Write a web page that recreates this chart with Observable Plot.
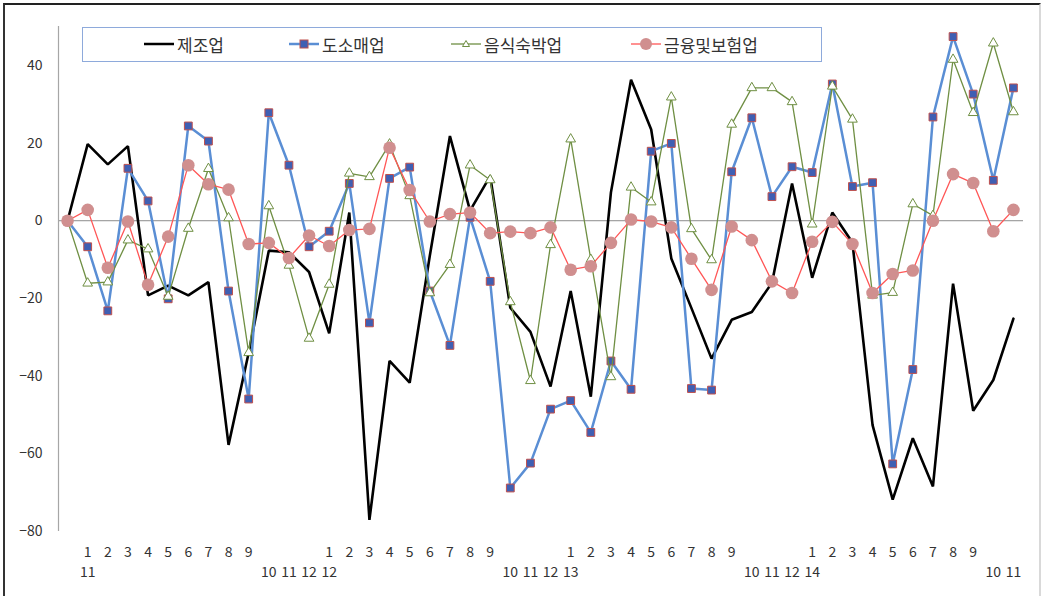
<!DOCTYPE html>
<html>
<head>
<meta charset="utf-8">
<script src="https://cdn.jsdelivr.net/npm/d3@7"></script>
<script src="https://cdn.jsdelivr.net/npm/@observablehq/plot@0.6"></script>
<style>
  html, body { margin: 0; padding: 0; background: #fff; }
  #wrap { position: relative; width: 1046px; height: 596px; overflow: hidden; font-family: "Noto Sans CJK KR", "Noto Sans", sans-serif; }
  #frame { position: absolute; left: 3px; top: 3px; width: 1038px; height: 600px; border-left: 2px solid #333; border-top: 2px solid #222; border-right: 2px solid #d9d9d9; box-sizing: border-box; pointer-events: none; }
  #legend { position: absolute; left: 82px; top: 27px; width: 740px; height: 35px; border: 1.5px solid #8eaadb; box-sizing: border-box; background: #fff; }
  .item { position: absolute; top: 0; height: 32px; display: flex; align-items: center; font-size: 17px; color: #333; white-space: nowrap; }
  .item svg { margin-right: 3px; }
</style>
</head>
<body>
<div id="wrap">
  <div id="chart"></div>
  <div id="legend"></div>
  <div id="frame"></div>
</div>
<script>
// ---- data ----
const seriesNames = ["제조업", "도소매업", "음식숙박업", "금융및보험업"];

const topLabels = ["", "1","2","3","4","5","6","7","8","9","","","",
                   "1","2","3","4","5","6","7","8","9","","","",
                   "1","2","3","4","5","6","7","8","9","","","",
                   "1","2","3","4","5","6","7","8","9","",""];
const bottomLabels = ["", "11","","","","","","","","","10","11","12",
                      "12","","","","","","","","","10","11","12",
                      "13","","","","","","","","","10","11","12",
                      "14","","","","","","","","","10","11"];

const manufacturing = [0, 19.7, 14.5, 19.2, -19.2, -16.7, -19.2, -15.8, -57.7, -34, -7.7, -8.1, -13.2,
  -29, 2.1, -77, -36.1, -41.7, -9, 21.8, 2.6, 11.5, -22.4, -28.6, -42.7,
  -18.1, -45.3, 7.3, 36.3, 23.5, -9.7, -22.5, -35.5, -25.5, -23.5, -16, 9.6,
  -14.7, 2.1, -5.6, -52.6, -71.8, -56.0, -68.4, -16.2, -48.9, -41.0, -25.2];

const retail = [0, -6.7, -23.2, 13.5, 5.1, -20.1, 24.4, 20.5, -18.1, -45.9, 27.8, 14.3, -6.7,
  -2.7, 9.6, -26.3, 10.9, 13.8, -18.1, -32.1, 0.9, -15.6, -68.8, -62.4, -48.5,
  -46.3, -54.5, -36.1, -43.4, 17.9, 19.9, -43.2, -43.6, 12.6, 26.5, 6.2, 13.9,
  12.4, 35.2, 8.8, 9.8, -62.6, -38.3, 26.7, 47.4, 32.6, 10.4, 34.2];

const food = [0, -16.1, -15.8, -5.0, -7.3, -19.5, -2.0, 13.4, 0.7, -34.0, 3.8, -11.5, -30.3,
  -16.4, 12.2, 11.3, 19.7, 6.4, -18.6, -11.3, 14.3, 10.5, -20.9, -41.2, -6.2,
  21.0, -10, -40.2, 8.6, 4.8, 31.8, -2.1, -10.1, 24.8, 34.2, 34.2, 30.6,
  -0.9, 34.6, 26.1, -19.2, -18.5, 4.3, 1.3, 41.5, 27.8, 45.7, 28.0];

const finance = [0, 2.8, -12.1, -0.2, -16.5, -4.1, 14.3, 9.4, 8.0, -6.0, -5.7, -9.6, -3.8,
  -6.5, -2.4, -2.1, 18.8, 7.9, -0.2, 1.7, 2.1, -3.2, -2.8, -3.2, -1.7,
  -12.6, -11.7, -5.7, 0.3, -0.2, -1.7, -9.8, -17.8, -1.5, -5.0, -15.6, -18.6,
  -5.4, -0.3, -6.0, -18.6, -13.7, -12.8, 0, 12.0, 9.7, -2.7, 2.8];

const yTicks = [-80, -60, -40, -20, 0, 20, 40];

// ---- build ----
const idx = d3.range(manufacturing.length);
const rows = vals => idx.map(i => ({i, v: vals[i]}));

const colors = {
  black: "#000000",
  blueLine: "#5a8ed4", blueFill: "#3f5fb3", blueStroke: "#c0504d",
  green: "#6f8f43",
  pinkLine: "#ff5656", pinkFill: "#d08f8f"
};

const chart = Plot.plot({
  width: 1046,
  height: 596,
  marginLeft: 58,
  marginRight: 23,
  marginTop: 26,
  marginBottom: 65,
  style: { fontFamily: '"Noto Sans CJK KR", "Noto Sans", sans-serif', fontSize: "14px", color: "#333", background: "transparent" },
  x: { type: "linear", domain: [-0.45, 47.5], label: null },
  y: { domain: [-80, 50], label: null },
  marks: [
    Plot.ruleY([0], { stroke: "#8c8c8c", strokeWidth: 1 }),
    Plot.ruleX([-0.45], { y1: -80, y2: 50, stroke: "#a6a6a6", strokeWidth: 1.2 }),
    Plot.axisY({ ticks: yTicks, tickSize: 0, tickPadding: 16, fontSize: 14, label: null }),
    Plot.axisX({ ticks: idx, tickFormat: i => topLabels[i], tickSize: 0, tickPadding: 16, fontSize: 14, label: null }),
    Plot.axisX({ ticks: idx, tickFormat: i => bottomLabels[i], tickSize: 0, tickPadding: 36, fontSize: 14, label: null }),
    // 제조업
    Plot.line(rows(manufacturing), { x: "i", y: "v", stroke: colors.black, strokeWidth: 2.6, strokeLinejoin: "miter" }),
    // 도소매업
    Plot.line(rows(retail), { x: "i", y: "v", stroke: colors.blueLine, strokeWidth: 2.5 }),
    Plot.dot(rows(retail), { x: "i", y: "v", symbol: "square", r: 4.4, fill: colors.blueFill, stroke: colors.blueStroke, strokeWidth: 1 }),
    // 음식숙박업
    Plot.line(rows(food), { x: "i", y: "v", stroke: colors.green, strokeWidth: 1.3 }),
    Plot.dot(rows(food), { x: "i", y: "v", symbol: "triangle", r: 3.6, fill: "white", stroke: colors.green, strokeWidth: 1 }),
    // 금융및보험업
    Plot.line(rows(finance), { x: "i", y: "v", stroke: colors.pinkLine, strokeWidth: 1.3 }),
    Plot.dot(rows(finance), { x: "i", y: "v", r: 6.3, fill: colors.pinkFill, stroke: "none" })
  ]
});
document.getElementById("chart").appendChild(chart);

// ---- legend ----
const legend = document.getElementById("legend");
const samples = [
  `<svg width="30" height="12"><line x1="0" y1="6" x2="30" y2="6" stroke="${colors.black}" stroke-width="2.5"/></svg>`,
  `<svg width="30" height="12"><line x1="0" y1="6" x2="30" y2="6" stroke="${colors.blueLine}" stroke-width="2.5"/><rect x="11" y="2" width="8" height="8" fill="${colors.blueFill}" stroke="${colors.blueStroke}" stroke-width="1"/></svg>`,
  `<svg width="30" height="12"><line x1="0" y1="6" x2="30" y2="6" stroke="${colors.green}" stroke-width="1.3"/><path d="M15,2.5 L18.5,8.5 L11.5,8.5 Z" fill="white" stroke="${colors.green}" stroke-width="1"/></svg>`,
  `<svg width="30" height="14"><line x1="0" y1="7" x2="30" y2="7" stroke="${colors.pinkLine}" stroke-width="1.3"/><circle cx="15" cy="7" r="6" fill="${colors.pinkFill}"/></svg>`
];
const itemLeft = [143, 288, 450, 630];
seriesNames.forEach((name, k) => {
  const d = document.createElement("div");
  d.className = "item";
  d.style.left = (itemLeft[k] - 82) + "px";
  d.innerHTML = samples[k] + `<span>${name}</span>`;
  legend.appendChild(d);
});
</script>
</body>
</html>
